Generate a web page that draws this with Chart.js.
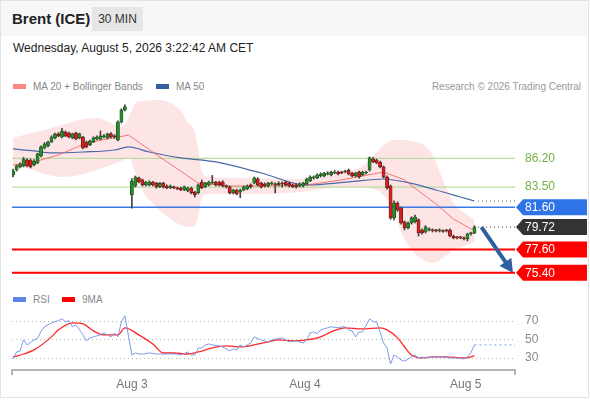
<!DOCTYPE html>
<html>
<head>
<meta charset="utf-8">
<script src="https://cdn.jsdelivr.net/npm/chart.js@4.4.1/dist/chart.umd.min.js"></script>
<style>
  body { margin: 0; background: #fff; font-family: "Liberation Sans", Arial, sans-serif; }
  #wrap { position: relative; width: 590px; height: 400px; overflow: hidden; }
  .frame { position: absolute; left: 0; top: 0; width: 587px; height: 396px; border: 1px solid #e3e3e3; }
  .head { position: absolute; left: 1px; top: 1px; width: 587px; height: 35px; background: #f7f7f7; }
  .title { position: absolute; left: 12px; top: 10px; font-size: 15px; font-weight: bold; color: #222; }
  .tf { position: absolute; left: 92px; top: 7px; width: 51px; height: 24px; line-height: 24px; background: #e6e6e6; text-align: center; font-size: 12px; color: #333; }
  .date { position: absolute; left: 13px; top: 41px; font-size: 12px; color: #222; }
  .lg { position: absolute; font-size: 10px; color: #888; }
  .sw { position: absolute; width: 13px; height: 5px; }
  .credit { position: absolute; right: 9px; top: 81px; font-size: 10px; color: #999; }
  canvas { position: absolute; left: 0; }
</style>
</head>
<body>
<div id="wrap">
  <div class="frame"></div>
  <div class="head"></div>
  <div class="title">Brent (ICE)</div>
  <div class="tf">30 MIN</div>
  <div class="date">Wednesday, August 5, 2026 3:22:42 AM CET</div>

  <div class="sw" style="left:13px;top:84px;background:#ff8585"></div>
  <div class="lg" style="left:33px;top:81px">MA 20 + Bollinger Bands</div>
  <div class="sw" style="left:156px;top:84px;background:#35609f"></div>
  <div class="lg" style="left:176px;top:81px">MA 50</div>
  <div class="credit">Research © 2026 Trading Central</div>

  <div class="sw" style="left:13px;top:297px;background:#5f84e6"></div>
  <div class="lg" style="left:33px;top:294px">RSI</div>
  <div class="sw" style="left:62px;top:297px;background:#ff0000"></div>
  <div class="lg" style="left:82px;top:294px">9MA</div>

  <canvas id="price" width="590" height="190" style="top:95px"></canvas>
  <canvas id="rsi" width="590" height="93" style="top:305px"></canvas>
</div>

<script>
// 30 min candles, index 0..132 (index 33 = weekend gap)
const open = [
  84.64, 85.11, 85.40, 85.49, 86.06, 86.06, 85.59, 85.77, 86.44, 87.19, 87.38, 87.76, 88.14, 88.52, 88.23, 88.70, 88.61,
  88.14, 88.61, 88.14, 88.23, 87.76, 87.48, 87.76, 88.04, 88.04, 88.23, 88.14, 88.52, 88.33, 87.95, 89.65, 90.78,
  null,
  82.75, 83.60, 84.36, 84.17, 83.70, 83.70, 83.98, 83.88, 83.51, 83.88, 83.60, 83.41, 83.51, 83.41, 83.41, 83.22,
  83.13, 83.41, 83.03, 82.94, 83.98, 83.51, 83.70, 83.88, 83.98, 83.98, 83.98, 83.60, 83.51, 82.94, 83.22, 83.03,
  83.22, 83.32, 83.70, 83.88, 84.26, 83.88, 83.79, 83.60, 83.79, 83.79, 83.70, 83.88, 83.98, 83.88, 83.70, 83.70,
  83.60, 83.60, 83.79, 84.07, 84.36, 84.36, 84.55, 84.55, 84.73, 84.64, 84.83, 84.92, 84.92, 84.92, 85.11, 84.83,
  84.55, 84.92, 84.64, 84.83, 85.11, 86.15, 86.06, 85.87, 85.40, 84.45, 83.60, 80.58, 81.99, 81.52, 80.20, 79.63,
  80.10, 80.20, 80.39, 79.44, 79.25, 79.44, 79.44, 79.44, 79.35, 79.35, 79.40, 79.44, 78.87, 78.78, 78.73, 78.69,
  78.59, 79.06, 79.16
];
const high = [
  85.20, 85.60, 85.80, 86.30, 86.20, 86.15, 86.10, 86.70, 87.40, 87.70, 87.85, 88.35, 88.60, 88.65, 89.05, 88.80, 88.70,
  88.60, 88.70, 88.60, 88.30, 87.85, 87.95, 88.25, 88.35, 88.80, 88.45, 88.60, 88.65, 88.45, 89.75, 90.90, 91.26,
  null,
  84.30, 84.55, 84.45, 84.25, 84.05, 84.10, 84.05, 83.95, 83.95, 83.95, 83.70, 83.70, 83.60, 83.50, 83.50, 83.60,
  83.50, 83.50, 83.10, 83.80, 84.17, 83.95, 84.05, 84.60, 84.05, 84.05, 84.10, 83.70, 83.60, 83.30, 83.30, 83.30,
  83.60, 83.70, 83.80, 84.45, 84.40, 83.95, 83.90, 83.95, 84.00, 83.90, 84.00, 84.00, 84.05, 83.95, 83.80, 83.80,
  83.90, 83.95, 84.35, 84.55, 84.55, 84.75, 84.85, 84.90, 84.95, 85.00, 85.05, 85.00, 85.00, 85.10, 85.20, 84.90,
  84.90, 85.00, 85.00, 85.00, 86.35, 86.30, 86.15, 85.95, 85.50, 84.55, 83.70, 82.20, 82.10, 81.60, 80.30, 80.20,
  80.70, 80.86, 80.50, 79.55, 79.85, 79.65, 79.55, 79.50, 79.55, 79.45, 79.50, 79.55, 78.95, 78.85, 78.85, 78.80,
  79.15, 79.25, 79.85
];
const low = [
  84.45, 85.00, 85.30, 85.40, 85.40, 85.30, 85.50, 85.70, 86.35, 87.10, 87.30, 87.70, 88.05, 88.25, 88.15, 88.25, 88.15,
  88.05, 87.95, 88.05, 87.10, 87.20, 87.40, 87.70, 87.95, 87.95, 88.15, 88.05, 88.15, 88.10, 87.85, 89.55, 90.70,
  null,
  81.50, 83.50, 83.90, 83.60, 83.60, 83.60, 83.60, 83.40, 83.45, 83.40, 83.35, 83.35, 83.35, 83.25, 83.15, 83.15,
  83.05, 82.85, 82.55, 82.85, 83.35, 83.45, 83.60, 83.80, 83.60, 83.60, 83.50, 83.40, 82.85, 82.85, 82.75, 82.50,
  83.15, 83.25, 83.40, 83.80, 83.60, 83.40, 83.50, 83.50, 83.70, 82.94, 83.60, 83.50, 83.60, 83.50, 83.45, 83.40,
  83.50, 83.50, 83.70, 84.00, 84.25, 84.30, 84.45, 84.45, 84.65, 84.55, 84.75, 84.65, 84.75, 84.85, 84.65, 84.45,
  84.45, 84.35, 84.55, 84.75, 85.00, 85.80, 85.70, 85.30, 84.35, 83.30, 80.45, 80.40, 81.20, 80.00, 79.44, 79.55,
  80.00, 80.10, 78.87, 79.05, 79.15, 79.35, 79.25, 79.25, 79.25, 79.20, 79.25, 78.78, 78.60, 78.60, 78.60, 78.50,
  78.40, 78.95, 79.10
];
const close = [
  85.02, 85.49, 85.68, 86.15, 85.49, 85.40, 85.96, 86.63, 87.29, 87.57, 87.76, 88.23, 88.52, 88.33, 88.80, 88.33, 88.23,
  88.52, 88.04, 88.52, 87.19, 87.29, 87.85, 88.14, 88.23, 88.33, 88.33, 88.52, 88.23, 88.23, 89.65, 90.78, 91.07,
  null,
  84.07, 84.45, 83.98, 83.70, 83.98, 83.98, 83.70, 83.51, 83.88, 83.51, 83.41, 83.60, 83.41, 83.32, 83.22, 83.51,
  83.41, 82.94, 82.75, 83.70, 83.41, 83.88, 83.98, 83.98, 83.70, 83.70, 83.60, 83.51, 82.94, 83.22, 82.84, 83.22,
  83.51, 83.60, 83.51, 84.36, 83.70, 83.51, 83.60, 83.88, 83.88, 83.70, 83.88, 83.79, 83.70, 83.60, 83.51, 83.51,
  83.79, 83.88, 84.26, 84.45, 84.45, 84.64, 84.73, 84.83, 84.83, 84.92, 84.92, 84.73, 84.83, 85.02, 84.73, 84.55,
  84.83, 84.45, 84.92, 84.92, 86.25, 85.87, 85.77, 85.40, 84.45, 83.41, 80.58, 81.99, 81.33, 80.10, 79.63, 80.10,
  80.58, 80.67, 79.16, 79.16, 79.73, 79.54, 79.35, 79.35, 79.44, 79.30, 79.35, 78.87, 78.69, 78.69, 78.69, 78.59,
  79.06, 79.16, 79.72
];

// MA 20 and MA 50
const ma20Idx = [0, 6, 13, 19, 25, 29, 33, 42, 53, 62, 74, 84, 94, 106, 112, 116, 121, 126, 131, 132];
const ma20 = [85.59, 85.87, 86.53, 87.38, 87.95, 88.14, 88.42, 86.34, 83.88, 83.60, 83.60, 83.70, 84.17, 84.92, 84.17, 83.13, 81.90, 80.48, 79.54, 79.44];
const ma50Idx = [0, 6, 11, 20, 29, 33, 39, 48, 58, 71, 84, 96, 106, 112, 121, 128, 132];
const ma50 = [87.10, 86.91, 86.72, 86.81, 87.00, 87.29, 86.81, 86.25, 85.87, 84.83, 83.70, 83.98, 84.26, 83.98, 83.22, 82.56, 82.18];

// Bollinger bands
const bbIdx = [0, 4, 9, 14, 19, 24, 28, 31, 33, 35, 37, 41, 45, 48, 50, 52, 53, 54, 56, 69, 82, 91, 99, 103, 106, 109, 111, 114, 117, 120, 123, 126, 130, 132];
const bbUpper = [88.14, 88.52, 88.89, 89.37, 89.84, 90.03, 89.56, 89.18, 90.03, 91.45, 91.63, 91.73, 91.45, 90.69, 89.65, 88.70, 87.00, 84.92, 84.45, 84.36, 84.26, 84.92, 85.30, 86.44, 87.48, 87.95, 87.95, 87.86, 87.57, 86.53, 84.17, 81.99, 80.86, 80.39];
const bbLower = [85.40, 85.30, 84.73, 84.45, 84.64, 85.11, 85.59, 85.96, 86.25, 84.92, 83.22, 81.61, 80.48, 79.91, 79.73, 79.82, 80.86, 82.47, 82.84, 82.84, 83.03, 83.41, 83.51, 83.32, 82.75, 81.14, 79.25, 77.55, 76.70, 76.32, 76.80, 77.55, 78.02, 78.31];

// levels on the right
const levels = [86.20, 83.50, 81.60, 77.60, 75.40];
const levelKind = ['res', 'res', 'pivot', 'sup', 'sup'];

// RSI and its 9 period average
const rsiIdx = [0, 1, 2, 3, 4, 5, 6, 7, 8, 9, 10, 11, 12, 13, 14, 15, 16, 17, 18, 19, 20, 21, 22, 23, 24, 25, 26, 27, 28, 29, 30, 31, 32,
  34, 35, 36, 37, 39, 41, 43, 45, 47, 48, 50, 51, 52, 53, 54, 55, 56, 57, 59, 60, 62, 63, 64, 65, 66, 68, 69, 71, 73, 74, 77, 79, 81,
  83, 84, 85, 86, 87, 88, 90, 91, 93, 94, 95, 96, 97, 98, 99, 100, 102, 103, 104, 105, 106, 107, 108, 109, 110, 111, 112, 114, 115,
  116, 117, 118, 120, 121, 123, 125, 127, 129, 130, 131, 132];
const rsi = [28.6, 36.2, 37.3, 49.2, 43.8, 46.5, 49.2, 51.0, 58.5, 63.5, 65.5, 67.5, 69.0, 70.0, 72.1, 68.8, 69.9, 63.4, 65.5, 60.1,
  54.7, 48.2, 51.4, 52.5, 53.6, 54.7, 56.8, 54.5, 52.5, 56.8, 52.5, 68.8, 75.3,
  32.9, 35.1, 34.0, 34.0, 35.1, 34.0, 34.0, 34.0, 34.0, 32.9, 36.2, 32.9, 32.9, 40.5, 40.5, 43.8, 44.9, 43.8, 42.7, 41.6, 37.3, 39.5,
  38.4, 43.8, 41.6, 46.0, 52.5, 49.2, 47.1, 49.2, 51.4, 47.1, 48.2, 46.0, 49.2, 56.8, 57.9, 55.8, 60.1, 62.3, 63.4, 62.3, 63.4, 63.4,
  60.1, 59.0, 52.5, 57.9, 57.9, 72.1, 68.8, 68.8, 57.9, 46.0, 40.5, 23.2, 32.9, 30.8, 27.5, 26.4, 30.8, 32.9, 29.7, 30.8, 29.7, 30.8,
  30.8, 30.8, 29.7, 29.7, 28.6, 30.8, 35.5, 43.8];
const rsiMaIdx = [0, 3, 6, 11, 13, 17, 20, 23, 26, 30, 32, 36, 40, 43, 46, 50, 53, 57, 61, 65, 69, 73, 76, 80, 84, 88, 91, 95, 100, 105, 107, 110, 112, 114, 117, 120, 124, 129, 132];
const rsiMa = [30.8, 34.0, 38.4, 52.5, 60.1, 67.7, 66.6, 59.0, 54.7, 54.7, 62.3, 54.7, 44.9, 35.1, 35.1, 34.0, 36.2, 40.5, 42.7, 41.6,
  43.8, 47.1, 49.2, 48.2, 49.2, 52.5, 57.9, 62.3, 61.2, 62.3, 60.1, 51.4, 41.6, 32.9, 29.7, 30.8, 30.8, 29.7, 31.9];
const rsiLevels = [30, 50, 70];

// x axis
const dayTickIdx = [34, 83.5, 129.5];
const dayLabels = ['Aug 3', 'Aug 4', 'Aug 5'];

const X_MIN = -0.3, X_MAX = 143.6;
const FONT = '"Liberation Sans", Arial, sans-serif';
Chart.defaults.font.family = FONT;

const pts = (xs, ys) => xs.map((x, k) => ({ x, y: ys[k] }));
const last = close.length - 1;
const UP = '#2b8a2b', UP_EDGE = '#1b4f1b', DOWN = '#d42020', DOWN_EDGE = '#5a1414';

const bodies = open.map((o, i) => o == null ? null : { x: i, y: [o, close[i]] }).filter(Boolean);
const wicks = open.map((o, i) => o == null ? null : { x: i, y: [low[i], high[i]] }).filter(Boolean);
const isUp = c => c.raw && c.raw.y[1] >= c.raw.y[0];

const flat = (v, from, color, dash, order) => ({
  type: 'line', data: [{ x: from, y: v }, { x: X_MAX, y: v }],
  borderColor: color, borderWidth: 1, borderDash: dash, pointRadius: 0, order
});

const levelColor = { res: '#bcdba0', pivot: '#3a78e6', sup: '#ff0000' };
const levelWidth = { res: 1.3, pivot: 1.5, sup: 2 };

const levelTags = {
  id: 'levelTags',
  afterDatasetsDraw(chart) {
    const { ctx, scales: { x, y } } = chart;
    // forecast arrow toward the lower target
    const x0 = x.getPixelForValue(last + 2), y0 = y.getPixelForValue(close[last]);
    const x1 = x.getPixelForValue(X_MAX - 0.6), y1 = y.getPixelForValue(levels[levels.length - 1]);
    const ang = Math.atan2(y1 - y0, x1 - x0), head = 15;
    ctx.save();
    ctx.strokeStyle = ctx.fillStyle = '#2f5f9e';
    ctx.lineWidth = 4;
    ctx.beginPath();
    ctx.moveTo(x0, y0);
    ctx.lineTo(x1 - Math.cos(ang) * head * 0.7, y1 - Math.sin(ang) * head * 0.7);
    ctx.stroke();
    ctx.beginPath();
    ctx.moveTo(x1, y1);
    ctx.lineTo(x1 - head * Math.cos(ang - 0.5), y1 - head * Math.sin(ang - 0.5));
    ctx.lineTo(x1 - head * Math.cos(ang + 0.5), y1 - head * Math.sin(ang + 0.5));
    ctx.closePath();
    ctx.fill();
    ctx.restore();
  },
  afterDraw(chart) {
    const { ctx, chartArea: a, scales: { y } } = chart;
    const tags = levels.map((v, k) => ({ v, kind: levelKind[k] }));
    tags.push({ v: close[last], kind: 'last' });
    ctx.save();
    ctx.font = '12px ' + FONT;
    ctx.textBaseline = 'middle';
    tags.forEach(t => {
      const cy = y.getPixelForValue(t.v);
      const label = t.v.toFixed(2);
      if (t.kind === 'res') {
        ctx.fillStyle = '#74b043';
        ctx.fillText(label, a.right + 10, cy);
        return;
      }
      ctx.fillStyle = t.kind === 'pivot' ? '#2f73e8' : t.kind === 'last' ? '#333333' : '#ff0000';
      ctx.beginPath();
      ctx.moveTo(a.right + 1, cy);
      ctx.lineTo(a.right + 8, cy - 8);
      ctx.lineTo(587, cy - 8);
      ctx.lineTo(587, cy + 8);
      ctx.lineTo(a.right + 8, cy + 8);
      ctx.closePath();
      ctx.fill();
      ctx.fillStyle = '#fff';
      ctx.fillText(label, a.right + 10, cy + 0.5);
    });
    ctx.restore();
  }
};

new Chart(document.getElementById('price'), {
  type: 'bar',
  data: {
    datasets: [
      { type: 'line', data: pts(bbIdx, bbUpper), borderWidth: 0, pointRadius: 0, fill: '+1',
        backgroundColor: 'rgba(245, 70, 70, 0.14)', cubicInterpolationMode: 'monotone', order: 20 },
      { type: 'line', data: pts(bbIdx, bbLower), borderWidth: 0, pointRadius: 0, fill: false,
        cubicInterpolationMode: 'monotone', order: 19 },
      ...levels.map((v, k) => ({
        type: 'line', data: [{ x: X_MIN, y: v }, { x: X_MAX, y: v }],
        borderColor: levelColor[levelKind[k]], borderWidth: levelWidth[levelKind[k]], pointRadius: 0, order: 15
      })),
      flat(ma50[ma50.length - 1], last + 1, '#666', [1, 3], 14),
      flat(close[last], last + 1, '#333', [1, 3], 14),
      { type: 'line', data: pts(ma50Idx, ma50), borderColor: '#4a69a8', borderWidth: 1.2, pointRadius: 0,
        cubicInterpolationMode: 'monotone', order: 10 },
      { type: 'line', data: pts(ma20Idx, ma20), borderColor: 'rgba(240, 90, 90, 0.8)', borderWidth: 1, pointRadius: 0,
        order: 9 },
      { data: wicks, backgroundColor: '#444', barThickness: 1, grouped: false, order: 4 },
      { data: bodies, barThickness: 3.2, grouped: false, minBarLength: 1, borderWidth: 0.7, borderSkipped: false,
        backgroundColor: c => isUp(c) ? UP : DOWN, borderColor: c => isUp(c) ? UP_EDGE : DOWN_EDGE, order: 2 }
    ]
  },
  options: {
    responsive: false, animation: false,
    layout: { padding: { left: 12, right: 75, top: 0, bottom: 0 } },
    plugins: { legend: { display: false }, tooltip: { enabled: false } },
    scales: {
      x: { type: 'linear', min: X_MIN, max: X_MAX, offset: false, display: false },
      y: { type: 'linear', min: 74.24, max: 92.20, display: false }
    }
  },
  plugins: [levelTags]
});

// dotted RSI guide lines with their labels on the right
const rsiGuides = {
  id: 'rsiGuides',
  beforeDatasetsDraw(chart) {
    const { ctx, chartArea: a, scales: { y } } = chart;
    ctx.save();
    ctx.strokeStyle = '#b5b5b5';
    ctx.lineWidth = 1;
    ctx.setLineDash([1, 3]);
    rsiLevels.forEach(v => {
      const py = Math.round(y.getPixelForValue(v)) + 0.5;
      ctx.beginPath();
      ctx.moveTo(a.left, py);
      ctx.lineTo(a.right, py);
      ctx.stroke();
    });
    ctx.restore();
  },
  afterDraw(chart) {
    const { ctx, chartArea: a, scales: { y } } = chart;
    ctx.save();
    ctx.font = '12px ' + FONT;
    ctx.fillStyle = '#888';
    ctx.textBaseline = 'middle';
    rsiLevels.forEach(v => ctx.fillText(String(v), a.right + 10, y.getPixelForValue(v)));
    ctx.restore();
  }
};

new Chart(document.getElementById('rsi'), {
  type: 'line',
  data: {
    datasets: [
      { data: pts(rsiIdx, rsi), borderColor: '#7b9be8', borderWidth: 1, pointRadius: 0 },
      { data: pts(rsiMaIdx, rsiMa), borderColor: 'rgba(255, 0, 0, 0.85)', borderWidth: 1.3, pointRadius: 0,
        cubicInterpolationMode: 'monotone' },
      { data: [{ x: last, y: rsi[rsi.length - 1] }, { x: X_MAX, y: rsi[rsi.length - 1] }],
        borderColor: '#7b9be8', borderWidth: 1, borderDash: [2, 3], pointRadius: 0 }
    ]
  },
  options: {
    responsive: false, animation: false,
    layout: { padding: { left: 12, right: 75, top: 0, bottom: 3 } },
    plugins: { legend: { display: false }, tooltip: { enabled: false } },
    scales: {
      x: {
        type: 'linear', min: X_MIN, max: X_MAX, offset: false,
        afterBuildTicks: s => { s.ticks = [X_MIN, ...dayTickIdx, X_MAX].map(v => ({ value: v })); },
        afterFit: s => { s.height = 25; },
        ticks: {
          autoSkip: false, maxRotation: 0, minRotation: 0, padding: 2, color: '#777', font: { size: 12 },
          callback: v => { const k = dayTickIdx.indexOf(v); return k < 0 ? '' : dayLabels[k]; }
        },
        grid: {
          display: true, drawOnChartArea: false, drawTicks: true, tickLength: 5, lineWidth: 2,
          color: c => (c.tick && dayTickIdx.includes(c.tick.value)) ? 'rgba(0,0,0,0)' : '#b5b5b5'
        },
        border: { display: true, color: '#b5b5b5', width: 2 }
      },
      y: { type: 'linear', min: 16.70, max: 86.97, display: false }
    }
  },
  plugins: [rsiGuides]
});
</script>
</body>
</html>
